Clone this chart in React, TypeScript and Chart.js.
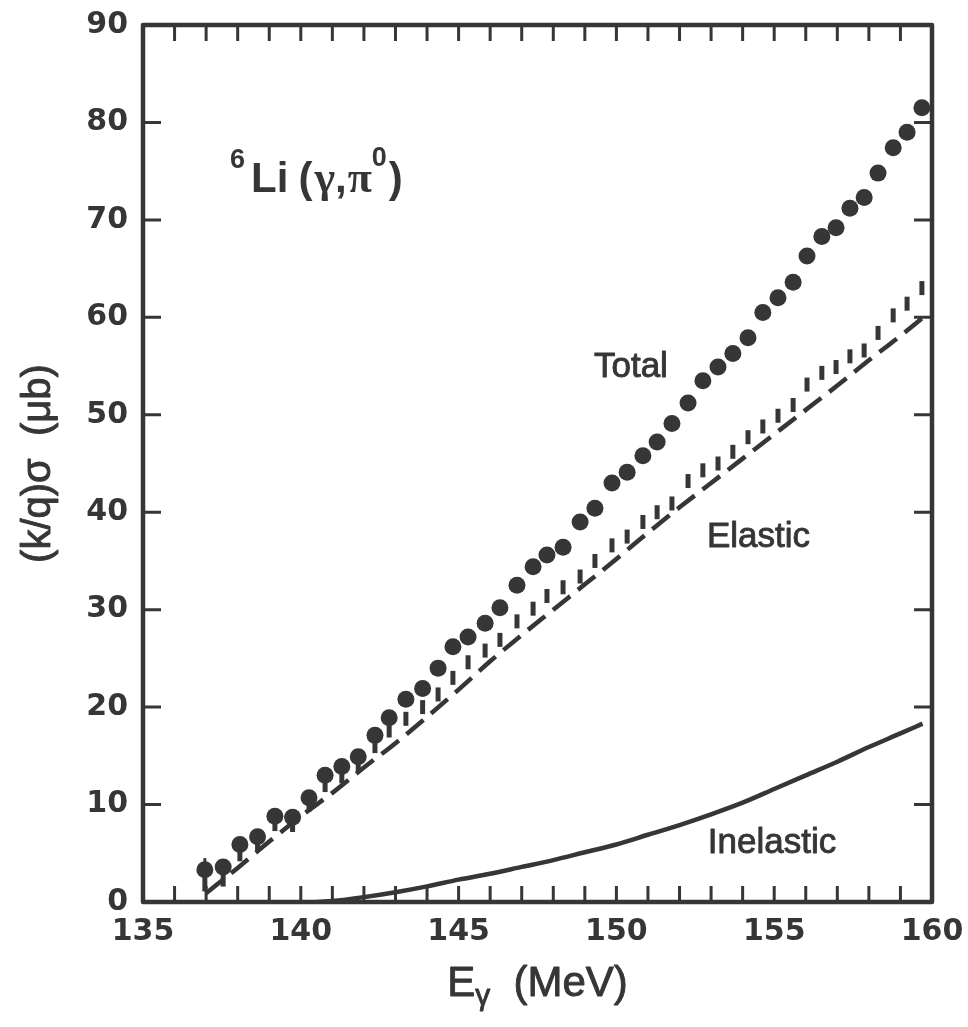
import React, { useEffect, useRef } from 'react';
import { Chart, registerables } from 'chart.js';

Chart.register(...registerables);

// ---------------- data ----------------
const xTickLabels = [135, 140, 145, 150, 155, 160];
const xMinorTicks = [135, 136, 137, 138, 139, 140, 141, 142, 143, 144, 145, 146, 147, 148, 149, 150, 151, 152, 153, 154, 155, 156, 157, 158, 159, 160];
const yTickLabels = [0, 10, 20, 30, 40, 50, 60, 70, 80, 90];

const energies = [136.96, 137.54, 138.07, 138.63, 139.18, 139.74, 140.26, 140.77, 141.3, 141.82, 142.35, 142.8, 143.33, 143.86, 144.35, 144.82, 145.3, 145.84, 146.31, 146.85, 147.36, 147.8, 148.31, 148.85, 149.32, 149.86, 150.34, 150.84, 151.29, 151.76, 152.27, 152.74, 153.22, 153.69, 154.17, 154.64, 155.12, 155.6, 156.04, 156.51, 156.96, 157.4, 157.85, 158.29, 158.77, 159.21, 159.68];
const totalValues = [3.3, 3.6, 5.9, 6.7, 8.8, 8.7, 10.7, 13.0, 13.9, 14.9, 17.1, 18.9, 20.8, 21.9, 24.0, 26.2, 27.2, 28.6, 30.2, 32.5, 34.4, 35.6, 36.4, 39.0, 40.4, 43.0, 44.1, 45.8, 47.2, 49.1, 51.2, 53.5, 54.9, 56.3, 57.9, 60.5, 62.0, 63.6, 66.3, 68.3, 69.2, 71.2, 72.3, 74.8, 77.4, 79.0, 81.5];
const totalErrors = [1.2, 0.8, 0.7, 0.7, 0.7, 0.7, 0.7, 0.7, 0.7, 0.7, 0.7, 0.7, 0.7, 0.7, 0.7, 0.7, 0.7, 0.7, 0.7, 0.7, 0.7, 0.7, 0.7, 0.7, 0.7, 0.7, 0.7, 0.7, 0.7, 0.7, 0.7, 0.7, 0.7, 0.7, 0.7, 0.7, 0.7, 0.7, 0.7, 0.7, 0.7, 0.7, 0.7, 0.7, 0.7, 0.7, 0.7];
const elasticValues = [1.8, 2.3, 4.9, 6.0, 8.0, 7.9, 10.0, 12.0, 12.9, 14.0, 16.0, 17.6, 18.8, 20.0, 21.3, 23.0, 24.6, 25.8, 26.9, 28.8, 30.1, 31.4, 32.3, 33.4, 35.0, 36.6, 37.5, 39.0, 40.0, 40.9, 43.2, 44.3, 45.0, 46.2, 47.7, 48.8, 49.9, 51.0, 53.1, 54.3, 54.9, 56.0, 56.6, 58.4, 60.2, 61.4, 63.0];

const elasticCurveX = [137, 138, 139, 140, 141, 142, 143, 144, 145, 146, 147, 148, 149, 150, 151, 152, 153, 154, 155, 156, 157, 158, 159, 159.8];
const elasticCurveY = [0.9, 3.5, 6.2, 8.8, 11.2, 13.8, 16.3, 19.0, 21.8, 24.7, 27.4, 30.0, 32.6, 35.2, 37.9, 40.5, 43.0, 45.5, 48.0, 50.5, 53.0, 55.6, 58.1, 60.2];

const inelasticCurveX = [140.5, 141, 142, 143, 144, 145, 146, 147, 148, 149, 150, 151, 152, 153, 154, 155, 156, 157, 158, 159, 159.7];
const inelasticCurveY = [0, 0.1, 0.5, 1.0, 1.6, 2.3, 2.9, 3.6, 4.3, 5.1, 5.9, 6.9, 7.9, 9.0, 10.2, 11.6, 13.0, 14.4, 15.9, 17.3, 18.3];

const seriesLabels = [
  { text: 'Total', x: 150.46, y: 54.9 },
  { text: 'Elastic', x: 154.5, y: 37.4 },
  { text: 'Inelastic', x: 154.93, y: 6.05 },
];
const reactionLabelPos = { x: 137.76, y: 72.9 };

// ---------------- style ----------------
const INK = '#363636';
const SANS = '"Liberation Sans", Arial, Helvetica, sans-serif';
const TICKFONT = '"DejaVu Sans", "Liberation Sans", sans-serif';
const SERIF = '"Liberation Serif", "Times New Roman", serif';

function heavyText(ctx: any, t: string, x: number, y: number, w: number) {
  ctx.fillText(t, x, y);
  if (w > 0) {
    ctx.lineWidth = w;
    ctx.strokeText(t, x, y);
  }
}

const decorPlugin = {
  id: 'decor',
  afterDatasetsDraw(chart: any) {
    const { ctx, chartArea } = chart;
    const xs = chart.scales.x;
    const ys = chart.scales.y;
    const { left, right, top, bottom } = chartArea;
    ctx.save();
    ctx.strokeStyle = INK;
    ctx.fillStyle = INK;
    ctx.lineJoin = 'round';

    // error bars of total points
    ctx.lineWidth = 3;
    energies.forEach((e, i) => {
      const px = xs.getPixelForValue(e);
      ctx.beginPath();
      ctx.moveTo(px, ys.getPixelForValue(totalValues[i] - totalErrors[i]));
      ctx.lineTo(px, ys.getPixelForValue(totalValues[i] + totalErrors[i]));
      ctx.stroke();
    });

    // inward ticks
    ctx.lineWidth = 3;
    xMinorTicks.forEach((v) => {
      const px = xs.getPixelForValue(v);
      ctx.beginPath();
      ctx.moveTo(px, bottom);
      ctx.lineTo(px, bottom - 16);
      ctx.moveTo(px, top);
      ctx.lineTo(px, top + 16);
      ctx.stroke();
    });
    yTickLabels.forEach((v) => {
      const py = ys.getPixelForValue(v);
      ctx.beginPath();
      ctx.moveTo(left, py);
      ctx.lineTo(left + 18, py);
      ctx.moveTo(right, py);
      ctx.lineTo(right - 18, py);
      ctx.stroke();
    });

    // frame
    ctx.lineWidth = 4.5;
    ctx.strokeRect(left, top, right - left, bottom - top);

    // series labels
    ctx.font = `35px ${SANS}`;
    ctx.textAlign = 'center';
    ctx.textBaseline = 'middle';
    seriesLabels.forEach((l) => {
      heavyText(ctx, l.text, xs.getPixelForValue(l.x), ys.getPixelForValue(l.y), 0.9);
    });

    // reaction label: 6Li (γ,π0)
    ctx.textAlign = 'left';
    ctx.textBaseline = 'alphabetic';
    let cx = xs.getPixelForValue(reactionLabelPos.x);
    const by = ys.getPixelForValue(reactionLabelPos.y);
    const parts: [string, string, number, number][] = [
      ['6', `bold 27px ${SANS}`, -24, 6],
      ['Li', `bold 42px ${SANS}`, 0, 10],
      ['(', `bold 42px ${SANS}`, 0, 2],
      ['γ', `bold 44px ${SERIF}`, 0, 0],
      [',', `bold 42px ${SANS}`, 0, 1],
      ['π', `bold 44px ${SERIF}`, 0, 0],
      ['0', `bold 27px ${SANS}`, -26, 2],
      [')', `bold 42px ${SANS}`, 0, 0],
    ];
    parts.forEach(([t, f, dy, gap]) => {
      ctx.font = f;
      ctx.fillText(t, cx, by + dy);
      cx += ctx.measureText(t).width + gap;
    });

    // x-axis title: Eγ (MeV)
    const titleParts: [string, string, number][] = [
      ['E', `42px ${SANS}`, 0],
      ['γ', `30px ${SANS}`, 9],
      ['  (MeV)', `42px ${SANS}`, 0],
    ];
    let totalW = 0;
    titleParts.forEach(([t, f]) => {
      ctx.font = f;
      totalW += ctx.measureText(t).width;
    });
    let tx = (left + right) / 2 - totalW / 2;
    const tby = 996;
    titleParts.forEach(([t, f, dy]) => {
      ctx.font = f;
      heavyText(ctx, t, tx, tby + dy, 0.9);
      tx += ctx.measureText(t).width;
    });

    // y-axis title
    ctx.save();
    ctx.translate(39, (top + bottom) / 2);
    ctx.rotate(-Math.PI / 2);
    ctx.textAlign = 'center';
    ctx.textBaseline = 'middle';
    ctx.font = `40px ${SANS}`;
    heavyText(ctx, '(k/q)σ  (μb)', 0, 0, 0.9);
    ctx.restore();

    ctx.restore();
  },
};

export default function App() {
  const ref = useRef<HTMLCanvasElement>(null);
  useEffect(() => {
    const chart = new Chart(ref.current as HTMLCanvasElement, {
      type: 'scatter',
      data: {
        datasets: [
          {
            label: 'Total',
            data: energies.map((e, i) => ({ x: e, y: totalValues[i] })),
            pointStyle: 'circle',
            pointRadius: 8.5,
            pointBackgroundColor: INK,
            pointBorderWidth: 0,
            showLine: false,
          },
          {
            label: 'Elastic data',
            data: energies.map((e, i) => ({ x: e, y: elasticValues[i] })),
            pointStyle: 'line',
            rotation: 90,
            pointRadius: 7,
            pointBorderColor: INK,
            pointBorderWidth: 5,
            showLine: false,
          },
          {
            label: 'Elastic',
            data: elasticCurveX.map((x, i) => ({ x, y: elasticCurveY[i] })),
            showLine: true,
            pointRadius: 0,
            borderColor: INK,
            borderWidth: 4.5,
            borderDash: [22, 10],
            cubicInterpolationMode: 'monotone',
          },
          {
            label: 'Inelastic',
            data: inelasticCurveX.map((x, i) => ({ x, y: inelasticCurveY[i] })),
            showLine: true,
            pointRadius: 0,
            borderColor: INK,
            borderWidth: 4.5,
            cubicInterpolationMode: 'monotone',
          },
        ] as any,
      },
      options: {
        responsive: false,
        animation: false,
        events: [],
        layout: { padding: { left: 0, top: 25, right: 36, bottom: 0 } },
        plugins: {
          legend: { display: false },
          tooltip: { enabled: false },
        },
        scales: {
          x: {
            type: 'linear',
            min: 135,
            max: 160,
            grid: { display: false, drawTicks: false },
            border: { display: false },
            afterFit: (s: any) => {
              s.height = 125;
              s.paddingLeft = 0;
              s.paddingRight = 0;
            },
            afterBuildTicks: (s: any) => {
              s.ticks = xTickLabels.map((v) => ({ value: v }));
            },
            ticks: {
              autoSkip: false,
              maxRotation: 0,
              padding: 12,
              color: INK,
              font: { family: TICKFONT, size: 30, weight: 'bold' },
              callback: (v: any) => String(v),
            },
          },
          y: {
            type: 'linear',
            min: 0,
            max: 90,
            grid: { display: false, drawTicks: false },
            border: { display: false },
            afterFit: (s: any) => {
              s.width = 143;
              s.paddingTop = 0;
              s.paddingBottom = 0;
            },
            afterBuildTicks: (s: any) => {
              s.ticks = yTickLabels.map((v) => ({ value: v }));
            },
            ticks: {
              autoSkip: false,
              padding: 15,
              color: INK,
              font: { family: TICKFONT, size: 30, weight: 'bold' },
              callback: (v: any) => String(v),
            },
          },
        },
      } as any,
      plugins: [decorPlugin],
    });
    return () => chart.destroy();
  }, []);
  return (
    <div style={{ position: 'absolute', left: 0, top: 0, width: 968, height: 1027, background: '#fff' }}>
      <canvas ref={ref} width={968} height={1027} style={{ display: 'block', width: 968, height: 1027 }} />
    </div>
  );
}
